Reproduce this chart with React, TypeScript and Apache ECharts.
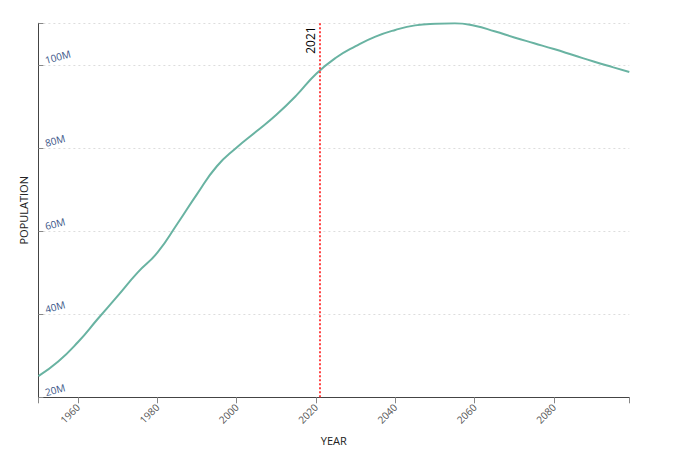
import React, { useEffect, useRef } from "react";
import * as echarts from "echarts";

const years = [1950, 1955, 1960, 1965, 1970, 1975, 1980, 1985, 1990, 1995, 2000, 2005, 2010, 2015, 2020, 2025, 2030, 2035, 2040, 2045, 2050, 2055, 2060, 2065, 2070, 2075, 2080, 2085, 2090, 2095, 2099];
const populationM = [25.1, 28.6, 33.3, 38.9, 44.4, 50.0, 54.8, 61.7, 68.9, 75.6, 80.1, 84.0, 88.0, 92.6, 97.8, 101.7, 104.5, 106.8, 108.4, 109.5, 109.9, 110.0, 109.4, 108.1, 106.6, 105.2, 103.8, 102.3, 100.8, 99.4, 98.3];
const xTickLabels = [1960, 1980, 2000, 2020, 2040, 2060, 2080];
const xTickMarks = [1950, 1960, 1980, 2000, 2020, 2040, 2060, 2080, 2099];
const yTickLabels = [20e6, 40e6, 60e6, 80e6, 100e6];
const yTickMarks = [20e6, 40e6, 60e6, 80e6, 100e6, 110e6];
const markerYear = 2021;

const FONT = "'Open Sans', 'Noto Sans', sans-serif";

export default function App() {
  const ref = useRef<HTMLDivElement>(null);
  useEffect(() => {
    if (!ref.current) return;
    const chart = echarts.init(ref.current, null, { renderer: "svg" });
    const data = years.map((y, i) => [y, populationM[i] * 1e6]);
    chart.setOption({
      animation: false,
      backgroundColor: "#fff",
      grid: { left: 38.4, right: 51.7, top: 23.3, bottom: 56.7, containLabel: false, outerBoundsMode: "none" },
      xAxis: {
        type: "value",
        min: 1950,
        max: 2099,
        name: "YEAR",
        nameLocation: "middle",
        nameGap: 38,
        nameTextStyle: { fontFamily: FONT, fontSize: 11, color: "#222" },
        axisLine: { show: true, lineStyle: { color: "#444", width: 1 } },
        axisTick: { show: true, length: 6, lineStyle: { color: "#888" }, customValues: xTickMarks },
        axisLabel: {
          rotate: 45,
          margin: 8,
          fontSize: 10,
          fontFamily: FONT,
          color: "#555",
          customValues: xTickLabels,
          formatter: (v: number) => String(v),
        },
        splitLine: { show: false },
      },
      yAxis: {
        type: "value",
        min: 20e6,
        max: 110e6,
        interval: 10e6,
        name: "POPULATION",
        nameLocation: "middle",
        nameGap: 9,
        nameTextStyle: { fontFamily: FONT, fontSize: 11, color: "#222" },
        axisLine: { show: true, lineStyle: { color: "#444", width: 1 } },
        axisTick: { show: true, inside: true, length: 5, lineStyle: { color: "#888" }, customValues: yTickMarks },
        axisLabel: {
          inside: true,
          rotate: 15,
          margin: 8,
          align: "left",
          verticalAlign: "bottom",
          fontSize: 10,
          fontFamily: FONT,
          color: "#3a5588",
          customValues: yTickLabels,
          formatter: (v: number) => `${Math.round(v / 1e6)}M`,
        },
        splitLine: { show: true, lineStyle: { color: "#ddd", type: [2, 3], width: 1 } },
      },
      series: [
        {
          type: "line",
          data,
          smooth: 0.5,
          symbol: "none",
          lineStyle: { color: "#69b3a2", width: 2 },
          markLine: {
            silent: true,
            symbol: "none",
            lineStyle: { color: "#f44", type: [2, 2], width: 2 },
            label: {
              show: true,
              position: "insideEndTop",
              formatter: String(markerYear),
              color: "#000",
              fontSize: 12,
              fontFamily: FONT,
              distance: 3,
            },
            data: [{ xAxis: markerYear }],
          },
        },
      ],
    });
    return () => chart.dispose();
  }, []);
  return (
    <div
      ref={ref}
      style={{ position: "absolute", left: 0, top: 0, width: 681, height: 454 }}
    />
  );
}
